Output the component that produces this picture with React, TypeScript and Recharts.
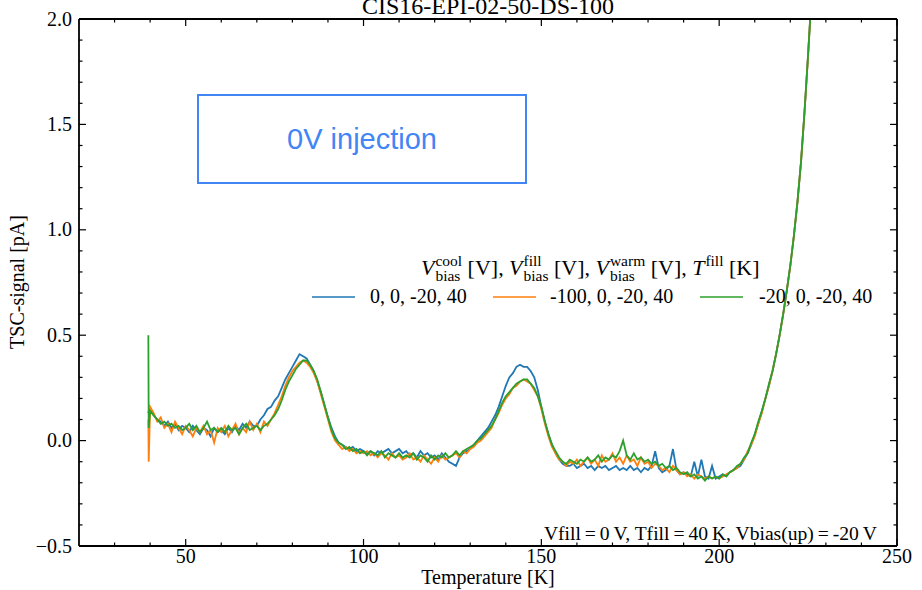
import { LineChart, Line, XAxis, YAxis } from "recharts";

// temperature grid [K]
const temps = [
  39.5, 39.6,
  40, 41, 42, 43, 44, 45, 46, 47, 48, 49,
  50, 51, 52, 53, 54, 55, 56, 57, 58, 59,
  60, 61, 62, 63, 64, 65, 66, 67, 68, 69,
  70, 71, 72, 73, 74, 75, 76, 77, 78, 79,
  80, 81, 82, 83, 84, 85, 86, 87, 88, 89,
  90, 91, 92, 93, 94, 95, 96, 97, 98, 99,
  100, 101, 102, 103, 104, 105, 106, 107, 108, 109,
  110, 111, 112, 113, 114, 115, 116, 117, 118, 119,
  120, 121, 122, 123, 124, 125, 126, 127, 128, 129,
  130, 131, 132, 133, 134, 135, 136, 137, 138, 139,
  140, 141, 142, 143, 144, 145, 146, 147, 148, 149,
  150, 151, 152, 153, 154, 155, 156, 157, 158, 159,
  160, 161, 162, 163, 164, 165, 166, 167, 168, 169,
  170, 171, 172, 173, 174, 175, 176, 177, 178, 179,
  180, 181, 182, 183, 184, 185, 186, 187, 188, 189,
  190, 191, 192, 193, 194, 195, 196, 197, 198, 199,
  200, 201, 202, 203, 204, 205, 206, 207, 208, 209,
  210, 211, 212, 213, 214, 215, 216, 217, 218, 219,
  220, 221, 222, 223, 224, 225, 226,
];

// TSC signal [pA], Vcool = 0 V
const tscCool0 = [
  0.13, 0.14,
  0.15, 0.12, 0.10, 0.09, 0.07, 0.09, 0.06, 0.08, 0.05, 0.07,
  0.06, 0.04, 0.07, 0.05, 0.03, 0.06, 0.05, 0.02, 0.06, 0.04,
  0.05, 0.03, 0.06, 0.04, 0.07, 0.05, 0.08, 0.06, 0.09, 0.07,
  0.07, 0.10, 0.12, 0.15, 0.16, 0.19, 0.21, 0.25, 0.29, 0.32,
  0.35, 0.38, 0.41, 0.40, 0.39, 0.36, 0.33, 0.28, 0.23, 0.17,
  0.11, 0.06, 0.02, -0.01, -0.02, -0.03, -0.04, -0.03, -0.05, -0.04,
  -0.05, -0.06, -0.05, -0.07, -0.05, -0.06, -0.05, -0.04, -0.06, -0.05,
  -0.04, -0.06, -0.05, -0.07, -0.06, -0.08, -0.05, -0.07, -0.06, -0.08,
  -0.07, -0.09, -0.06, -0.08, -0.10, -0.11, -0.12, -0.08, -0.06, -0.05,
  -0.04, -0.02, 0.0, 0.02, 0.04, 0.06, 0.09, 0.12, 0.16, 0.21,
  0.26, 0.30, 0.32, 0.35, 0.36, 0.35, 0.35, 0.33, 0.30, 0.24,
  0.16, 0.09, 0.03, -0.02, -0.06, -0.09, -0.11, -0.12, -0.12, -0.11,
  -0.13, -0.12, -0.11, -0.13, -0.12, -0.14, -0.12, -0.13, -0.12, -0.14,
  -0.13, -0.12, -0.14, -0.13, -0.14, -0.12, -0.14, -0.13, -0.15, -0.13,
  -0.14, -0.12, -0.05, -0.13, -0.15, -0.14, -0.12, -0.04, -0.14, -0.16,
  -0.15, -0.16, -0.17, -0.10, -0.17, -0.09, -0.17, -0.18, -0.12, -0.18,
  -0.17, -0.16, -0.17, -0.15, -0.14, -0.13, -0.12, -0.09, -0.06, -0.02,
  0.03, 0.08, 0.14, 0.20, 0.26, 0.33, 0.41, 0.50, 0.60, 0.71,
  0.83, 0.97, 1.13, 1.32, 1.56, 1.83, 2.12,
];

// Vcool = -100 V
const tscCool100 = [
  0.10, -0.10,
  0.16, 0.13, 0.09, 0.11, 0.06, 0.08, 0.04, 0.09, 0.06, 0.03,
  0.07, 0.05, 0.02, 0.06, 0.04, 0.07, 0.03, 0.05, -0.01, 0.06,
  0.04, 0.07, 0.02, 0.05, 0.08, 0.03, 0.06, 0.04, 0.09, 0.05,
  0.08, 0.04, 0.09, 0.07, 0.10, 0.13, 0.17, 0.21, 0.26, 0.30,
  0.33, 0.35, 0.37, 0.38, 0.37, 0.35, 0.32, 0.28, 0.22, 0.16,
  0.10, 0.04, 0.0, -0.02, -0.04, -0.03, -0.05, -0.04, -0.06, -0.05,
  -0.06, -0.05, -0.07, -0.06, -0.08, -0.06, -0.07, -0.09, -0.06, -0.08,
  -0.07, -0.09, -0.08, -0.06, -0.09, -0.08, -0.10, -0.07, -0.09, -0.11,
  -0.08, -0.10, -0.07, -0.09, -0.08, -0.07, -0.06, -0.08, -0.05, -0.06,
  -0.04, -0.03, -0.01, 0.0, 0.02, 0.04, 0.06, 0.10, 0.13, 0.17,
  0.20, 0.22, 0.25, 0.26, 0.28, 0.29, 0.28, 0.27, 0.24, 0.21,
  0.15, 0.08, 0.02, -0.03, -0.06, -0.09, -0.10, -0.12, -0.10, -0.11,
  -0.09, -0.12, -0.10, -0.08, -0.11, -0.09, -0.12, -0.07, -0.10, -0.09,
  -0.06, -0.10, -0.08, -0.11, -0.07, -0.10, -0.09, -0.12, -0.08, -0.11,
  -0.10, -0.13, -0.11, -0.12, -0.14, -0.13, -0.15, -0.12, -0.14, -0.16,
  -0.15, -0.17, -0.16, -0.18, -0.16, -0.17, -0.18, -0.17, -0.18, -0.17,
  -0.18, -0.17, -0.16, -0.15, -0.14, -0.13, -0.11, -0.09, -0.05, -0.02,
  0.02, 0.08, 0.13, 0.20, 0.26, 0.33, 0.41, 0.50, 0.60, 0.71,
  0.83, 0.97, 1.13, 1.32, 1.56, 1.83, 2.12,
];

// Vcool = -20 V
const tscCool20 = [
  0.50, 0.06,
  0.14, 0.12, 0.10, 0.08, 0.09, 0.07, 0.08, 0.06, 0.07, 0.05,
  0.06, 0.08, 0.05, 0.07, 0.04, 0.06, 0.09, 0.05, 0.06, 0.04,
  0.06, 0.04, 0.07, 0.05, 0.06, 0.03, 0.06, 0.08, 0.05, 0.06,
  0.07, 0.05, 0.07, 0.08, 0.10, 0.12, 0.15, 0.19, 0.24, 0.28,
  0.31, 0.34, 0.36, 0.38, 0.38, 0.36, 0.33, 0.29, 0.23, 0.17,
  0.11, 0.05, 0.01, -0.01, -0.02, -0.04, -0.03, -0.05, -0.04, -0.06,
  -0.05, -0.07, -0.05, -0.06, -0.07, -0.05, -0.08, -0.06, -0.07, -0.08,
  -0.06, -0.08, -0.07, -0.08, -0.06, -0.09, -0.07, -0.08, -0.10, -0.07,
  -0.09, -0.07, -0.08, -0.06, -0.08, -0.07, -0.05, -0.07, -0.05, -0.04,
  -0.03, -0.02, 0.0, 0.01, 0.03, 0.05, 0.07, 0.10, 0.14, 0.18,
  0.21, 0.23, 0.25, 0.27, 0.28, 0.29, 0.29, 0.27, 0.25, 0.21,
  0.16, 0.09, 0.03, -0.02, -0.05, -0.08, -0.10, -0.11, -0.09, -0.10,
  -0.11, -0.09, -0.10, -0.08, -0.10, -0.09, -0.07, -0.10, -0.08, -0.09,
  -0.07, -0.08, -0.05, 0.0, -0.07, -0.09, -0.06, -0.09, -0.08, -0.10,
  -0.09, -0.11, -0.10, -0.12, -0.11, -0.13, -0.12, -0.14, -0.13, -0.15,
  -0.16, -0.15, -0.17, -0.16, -0.18, -0.17, -0.19, -0.17, -0.18, -0.17,
  -0.18, -0.16, -0.17, -0.15, -0.14, -0.12, -0.11, -0.08, -0.06, -0.01,
  0.03, 0.09, 0.14, 0.20, 0.27, 0.33, 0.41, 0.50, 0.60, 0.71,
  0.83, 0.97, 1.13, 1.32, 1.56, 1.83, 2.12,
];

const seriesLabels = ["0, 0, -20, 40", "-100, 0, -20, 40", "-20, 0, -20, 40"];
const seriesColors = ["#1f77b4", "#ff7f0e", "#2ca02c"];

const xTicks = [30, 40, 50, 60, 70, 80, 90, 100, 110, 120, 130, 140, 150, 160, 170, 180, 190, 200, 210, 220, 230, 240, 250];
const yTicks = [-0.5, -0.4, -0.3, -0.2, -0.1, 0.0, 0.1, 0.2, 0.3, 0.4, 0.5, 0.6, 0.7, 0.8, 0.9, 1.0, 1.1, 1.2, 1.3, 1.4, 1.5, 1.6, 1.7, 1.8, 1.9, 2.0];

const data = temps.map((t, i) => ({
  t,
  s0: tscCool0[i],
  s1: tscCool100[i],
  s2: tscCool20[i],
}));

const serif = "Liberation Serif, Times New Roman, serif";
const sans = "Liberation Sans, Arial, sans-serif";
const MAJOR = 7;
const MINOR = 3.5;
const frame = { stroke: "#000", strokeWidth: 1.8 };

const isMajorX = (v: number) => v % 50 === 0;
const isMajorY = (v: number) => Math.abs(v * 2 - Math.round(v * 2)) < 1e-9;
const fmtY = (v: number) => v.toFixed(1).replace("-", "\u2212");

function BottomTick({ x, y, payload }: any) {
  const major = isMajorX(payload.value);
  return (
    <g>
      <line x1={x} x2={x} y1={y} y2={y - (major ? MAJOR : MINOR)} stroke="#000" strokeWidth={1.2} />
      {major && (
        <text x={x} y={y + 17} textAnchor="middle" fontFamily={serif} fontSize={20} fill="#000">
          {payload.value}
        </text>
      )}
    </g>
  );
}

function TopTick({ x, y, payload }: any) {
  const major = isMajorX(payload.value);
  return <line x1={x} x2={x} y1={y} y2={y + (major ? MAJOR : MINOR)} stroke="#000" strokeWidth={1.2} />;
}

function LeftTick({ x, y, payload }: any) {
  const major = isMajorY(payload.value);
  return (
    <g>
      <line x1={x} x2={x + (major ? MAJOR : MINOR)} y1={y} y2={y} stroke="#000" strokeWidth={1.2} />
      {major && (
        <text x={x - 7} y={y + 6.5} textAnchor="end" fontFamily={serif} fontSize={20} fill="#000">
          {fmtY(payload.value)}
        </text>
      )}
    </g>
  );
}

function RightTick({ x, y, payload }: any) {
  const major = isMajorY(payload.value);
  return <line x1={x} x2={x - (major ? MAJOR : MINOR)} y1={y} y2={y} stroke="#000" strokeWidth={1.2} />;
}

function Overlay() {
  const t = { fontFamily: serif, fill: "#000" };
  const sup = { fontSize: 15.5 };
  return (
    <svg width={922} height={590} style={{ position: "absolute", left: 0, top: 0, pointerEvents: "none" }}>
      <text x={488} y={14} textAnchor="middle" fontSize={24} {...t}>CIS16-EPI-02-50-DS-100</text>
      <text x={488} y={584} textAnchor="middle" fontSize={20} {...t}>Temperature [K]</text>
      <text transform="translate(24,282) rotate(-90)" textAnchor="middle" fontSize={20} {...t}>TSC-signal [pA]</text>

      <rect x={198} y={95} width={328} height={88} fill="none" stroke="#4285f4" strokeWidth={2} />
      <text x={362} y={149} textAnchor="middle" fontFamily={sans} fontSize={29} fill="#4285f4">0V injection</text>

      <text x={877} y={540} textAnchor="end" fontSize={19.6} {...t}>
        Vfill{"\u2009=\u2009"}0{"\u2009"}V, Tfill{"\u2009=\u2009"}40{"\u2009"}K, Vbias(up){"\u2009=\u2009"}-20{"\u2009"}V
      </text>

      {/* legend title */}
      <text fontSize={22} {...t}>
        <tspan x={421} y={275} fontStyle="italic">V</tspan>
        <tspan x={435.4} y={266} {...sup}>cool</tspan>
        <tspan x={435.4} y={281} {...sup}>bias</tspan>
        <tspan x={467.6} y={275}>[V],</tspan>
        <tspan x={509.1} y={275} fontStyle="italic">V</tspan>
        <tspan x={523.5} y={266} {...sup}>fill</tspan>
        <tspan x={523.5} y={281} {...sup}>bias</tspan>
        <tspan x={554} y={275}>[V],</tspan>
        <tspan x={595.5} y={275} fontStyle="italic">V</tspan>
        <tspan x={609.9} y={266} {...sup}>warm</tspan>
        <tspan x={609.9} y={281} {...sup}>bias</tspan>
        <tspan x={650.7} y={275}>[V],</tspan>
        <tspan x={692.2} y={275} fontStyle="italic">T</tspan>
        <tspan x={705.4} y={266} {...sup}>fill</tspan>
        <tspan x={729} y={275}>[K]</tspan>
      </text>
      {seriesLabels.map((label, i) => {
        const lx = [312, 493, 700][i];
        const tx = [370, 550, 759][i];
        return (
          <g key={label}>
            <line x1={lx} x2={lx + 43} y1={297} y2={297} stroke={seriesColors[i]} strokeOpacity={0.75} strokeWidth={2} />
            <text x={tx} y={303} fontSize={20} {...t}>{label}</text>
          </g>
        );
      })}
    </svg>
  );
}

export default function App() {
  return (
    <div style={{ position: "absolute", left: 0, top: 0, width: 922, height: 590, background: "#fff" }}>
      <LineChart width={922} height={590} data={data} margin={{ top: 18, right: 24, bottom: 0, left: 0 }}>
        <XAxis
          dataKey="t"
          type="number"
          domain={[20, 250]}
          allowDataOverflow
          ticks={xTicks}
          interval={0}
          height={44}
          tickSize={0}
          tickMargin={0}
          tickLine={false}
          axisLine={frame}
          tick={<BottomTick />}
        />
        <XAxis
          xAxisId="top"
          orientation="top"
          dataKey="t"
          type="number"
          domain={[20, 250]}
          allowDataOverflow
          ticks={xTicks}
          interval={0}
          height={1}
          tickSize={0}
          tickMargin={0}
          tickLine={false}
          axisLine={frame}
          tick={<TopTick />}
        />
        <YAxis
          type="number"
          domain={[-0.5, 2]}
          allowDataOverflow
          ticks={yTicks}
          interval={0}
          width={79}
          tickSize={0}
          tickMargin={0}
          tickLine={false}
          axisLine={frame}
          tick={<LeftTick />}
        />
        <YAxis
          yAxisId="right"
          orientation="right"
          type="number"
          domain={[-0.5, 2]}
          allowDataOverflow
          ticks={yTicks}
          interval={0}
          width={1}
          tickSize={0}
          tickMargin={0}
          tickLine={false}
          axisLine={frame}
          tick={<RightTick />}
        />
        {/* transparent copy so the top/right frame axes get a scale */}
        <Line
          xAxisId="top"
          yAxisId="right"
          dataKey="s0"
          stroke="#000"
          strokeOpacity={0}
          dot={false}
          activeDot={false}
          isAnimationActive={false}
        />
        {["s0", "s1", "s2"].map((k, i) => (
          <Line
            key={k}
            dataKey={k}
            type="linear"
            stroke={seriesColors[i]}
            strokeWidth={1.8}
            dot={false}
            activeDot={false}
            isAnimationActive={false}
          />
        ))}
      </LineChart>
      <Overlay />
    </div>
  );
}
